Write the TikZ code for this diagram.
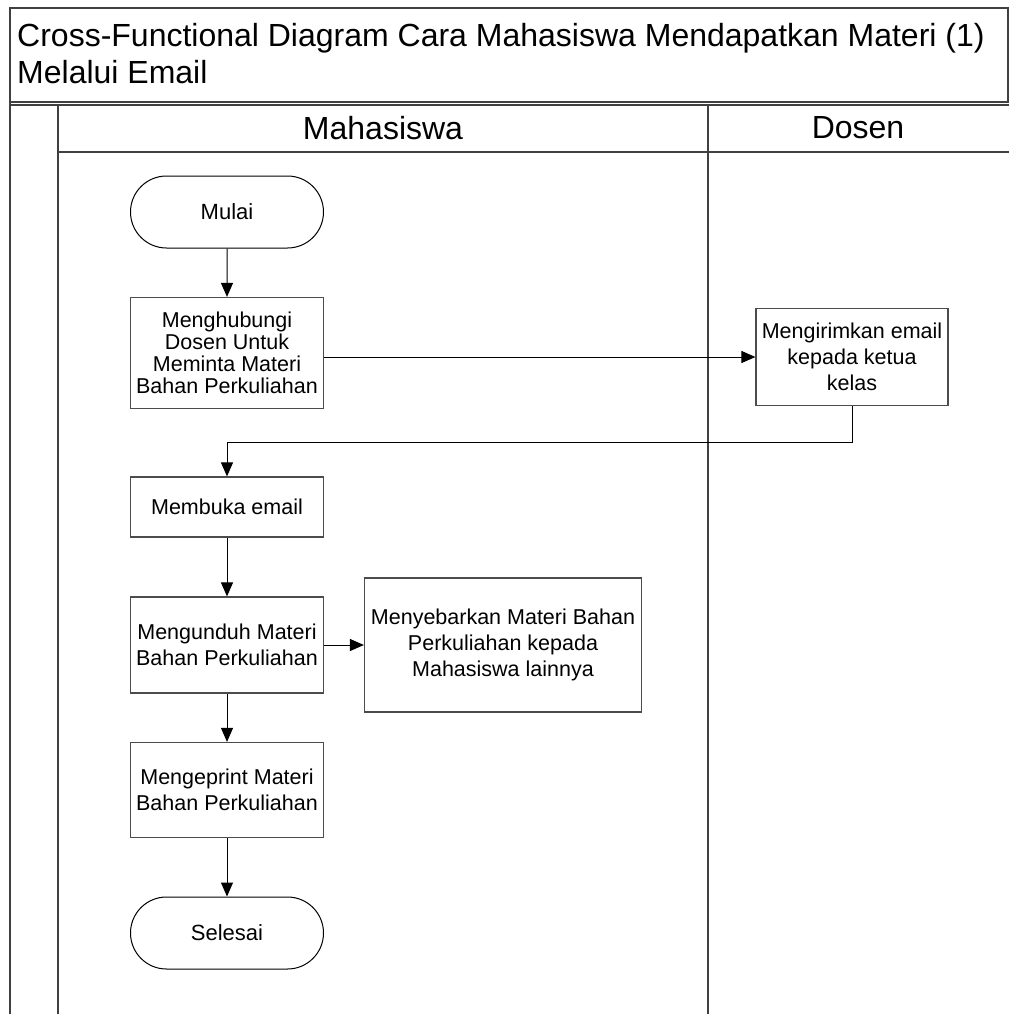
\documentclass[tikz,border=0pt]{standalone}
\usepackage{fontspec}
\setmainfont{Liberation Sans}
\usetikzlibrary{arrows.meta,shapes.misc}

\begin{document}
\begin{tikzpicture}[x = 1pt, y = -1pt,
    lane/.style = {line width = 1.6pt, draw = black!75},
    head/.style = {font = \fontsize{32}{37}\selectfont},
    box/.style = {rectangle, line width = 1.2pt, draw = black!70, fill = white, inner sep = 0pt, minimum width = 193pt, align = center, font = \fontsize{21.5}{26}\selectfont},
    term/.style = {rounded rectangle, line width = 1pt, draw = black, fill = white, inner sep = 0pt, minimum width = 193pt, minimum height = 72pt, font = \fontsize{22}{26}\selectfont},
    flow/.style = {line width = 1pt, -{Triangle[length = 14pt, width = 12pt]}}]

    \useasboundingbox (0, 0) rectangle (1009, 1014);

    % pool frame and lanes
    \draw [lane] (10, 1014) -- (10, 8) -- (1008, 8) -- (1008, 102);
    \draw [lane] (10, 102) -- (1009, 102);
    \draw [lane] (10, 105) -- (1009, 105);
    \draw [lane] (58, 105) -- (58, 1014);
    \draw [lane] (708, 105) -- (708, 1014);
    \draw [lane] (58, 152) -- (1009, 152);

    \node[head, anchor = north west, align = left, inner sep = 0pt] (title) at (17, 23) {Cross-Functional Diagram Cara Mahasiswa Mendapatkan Materi (1)\\Melalui Email};
    \node[head] (mhs) at (383, 128) {Mahasiswa};
    \node[head] (dsn) at (858, 128) {Dosen};

    % steps
    \node[term] (mulai) at (227, 212) {Mulai};
    \node[box, minimum height = 111pt, font = \fontsize{21.5}{22}\selectfont] (hubungi) at (227, 353) {Menghubungi\\Dosen Untuk\\Meminta Materi\\Bahan Perkuliahan};
    \node[box, minimum width = 192pt, minimum height = 97pt] (kirim) at (852, 357) {Mengirimkan email\\kepada ketua\\kelas};
    \node[box, minimum height = 60pt] (buka) at (227, 507) {Membuka email};
    \node[box, minimum height = 96pt] (unduh) at (227, 645) {Mengunduh Materi\\Bahan Perkuliahan};
    \node[box, minimum width = 277pt, minimum height = 134pt] (sebar) at (503, 645) {Menyebarkan Materi Bahan\\Perkuliahan kepada\\Mahasiswa lainnya};
    \node[box, minimum height = 95pt] (print) at (227, 790) {Mengeprint Materi\\Bahan Perkuliahan};
    \node[term] (selesai) at (227, 933) {Selesai};

    % flow
    \draw [flow] (mulai) -- (hubungi);
    \draw [flow] (hubungi.east |- kirim.west) -- (kirim.west);
    \draw [flow] (kirim.south) -- ++(0, 36) -| (buka.north);
    \draw [flow] (buka) -- (unduh);
    \draw [flow] (unduh) -- (sebar);
    \draw [flow] (unduh) -- (print);
    \draw [flow] (print) -- (selesai);

\end{tikzpicture}
\end{document}
